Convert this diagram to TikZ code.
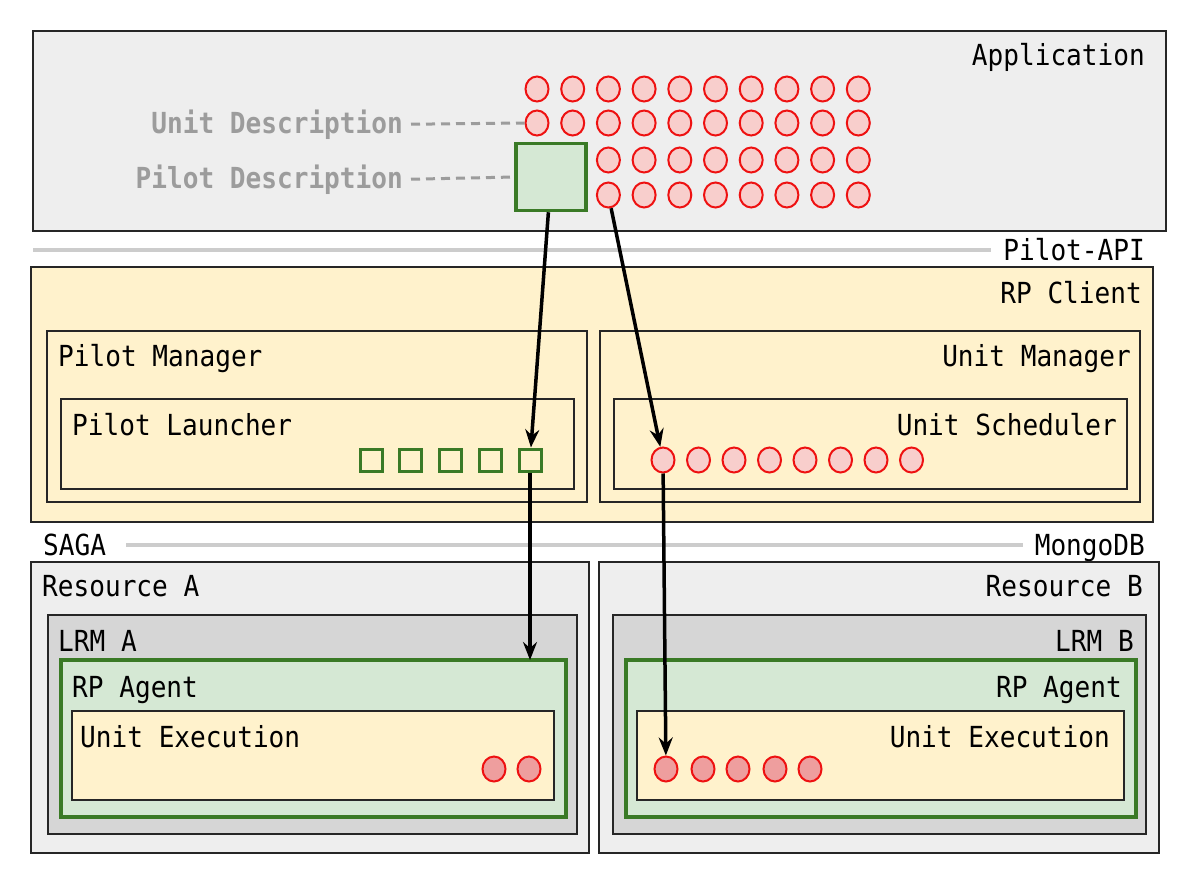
\documentclass[tikz,border=0pt]{standalone}
\usepackage{fontspec}
\usepackage{xcolor}
\usepackage{tikz}
\usetikzlibrary{arrows.meta,shapes.geometric}
\newfontfamily\diafont[FakeStretch=0.9]{DejaVu Sans Mono}
\definecolor{appgray}{HTML}{EEEEEE}
\definecolor{lrmgray}{HTML}{D6D6D6}
\definecolor{clientfill}{HTML}{FFF2CC}
\definecolor{agentfill}{HTML}{D5E8D4}
\definecolor{agentgreen}{HTML}{3A7A26}
\definecolor{unitred}{HTML}{EE1111}
\definecolor{unitfill}{HTML}{F8CECC}
\definecolor{donefill}{HTML}{EE9E9E}
\definecolor{descgray}{HTML}{9C9C9C}
\definecolor{apigray}{HTML}{CCCCCC}

\begin{document}
\begin{tikzpicture}[x=1pt,y=-1pt,
	font=\diafont\fontsize{29pt}{34pt}\selectfont,
	box/.style={draw=black!85, line width=1.4pt},
	agent/.style={draw=agentgreen, fill=agentfill, line width=3.5pt},
	lbl/.style={inner sep=0pt},
	desc/.style={inner sep=0pt, text=descgray, font=\diafont\bfseries\fontsize{29pt}{34pt}\selectfont},
	unit/.style={ellipse, draw=unitred, fill=unitfill, line width=2pt, minimum width=23pt, minimum height=25pt, inner sep=0pt},
	done/.style={unit, fill=donefill},
	pilot/.style={draw=agentgreen, line width=3pt, minimum size=22pt, inner sep=0pt},
	flow/.style={line width=3.5pt, -{Stealth[length=18pt,width=14pt,inset=6pt]}},
	api/.style={draw=apigray, line width=4pt},
	link/.style={draw=descgray, line width=3pt, dash pattern=on 9pt off 6pt}]
	\useasboundingbox (0,0) rectangle (1185,883);

	\draw[box, fill=appgray] (33,31) rectangle (1166,231);
	\node[lbl, anchor=base east] (app) at (1145,66) {Application};
	\foreach \r/\y in {1/89,2/123}
		\foreach \i in {0,...,9}
			\node[unit] (u\r-\i) at ({537+35.7*\i},\y) {};
	\foreach \r/\y in {3/160,4/195}
		\foreach \i in {2,...,9}
			\node[unit] (u\r-\i) at ({537+35.7*\i},\y) {};
	\node[agent, minimum width=70pt, minimum height=67pt, inner sep=0pt] (pdesc) at (551,177) {};
	\node[desc, anchor=base east] (udtext) at (403,133) {Unit Description};
	\node[desc, anchor=base east] (pdtext) at (403,188) {Pilot Description};
	\draw[link] (udtext.east) ++(8pt,0) -- (u2-0.west);
	\draw[link] (pdtext.east) ++(8pt,0) -- (pdesc.west);

	\node[lbl, anchor=base east] (papi) at (1145,260) {Pilot-API};
	\draw[api] (33,250) -- ([xshift=-12pt]papi.west |- 0,250);

	\draw[box, fill=clientfill] (31,267) rectangle (1153,522);
	\node[lbl, anchor=base east] (client) at (1142,303) {RP Client};
	\draw[box, fill=clientfill] (47,331) rectangle (587,502);
	\node[lbl, anchor=base west] (pmgr) at (58,366) {Pilot Manager};
	\draw[box, fill=clientfill] (61,399) rectangle (574,489);
	\node[lbl, anchor=base west] (plaunch) at (72,435) {Pilot Launcher};
	\foreach \i/\x in {0/371,1/410,2/450,3/490,4/530}
		\node[pilot] (p\i) at (\x,460) {};

	\draw[box, fill=clientfill] (600,331) rectangle (1140,502);
	\node[lbl, anchor=base east] (umgr) at (1131,366) {Unit Manager};
	\draw[box, fill=clientfill] (614,399) rectangle (1127,489);
	\node[lbl, anchor=base east] (usched) at (1117,435) {Unit Scheduler};
	\foreach \i in {0,...,7}
		\node[unit] (s\i) at ({663+35.5*\i},460) {};

	\node[lbl, anchor=base west] (saga) at (43,555) {SAGA};
	\node[lbl, anchor=base east] (mongo) at (1145,555) {MongoDB};
	\draw[api] ([xshift=20pt]saga.east |- 0,545) -- ([xshift=-12pt]mongo.west |- 0,545);

	\draw[box, fill=appgray] (31,562) rectangle (589,853);
	\node[lbl, anchor=base west] (resa) at (42,596) {Resource A};
	\draw[box, fill=lrmgray] (48,615) rectangle (577,834);
	\node[lbl, anchor=base west] (lrma) at (58,651) {LRM A};
	\draw[agent] (61,660) rectangle (566,817);
	\coordinate (agenta) at (530,660);
	\node[lbl, anchor=base west] (rpa) at (72,697) {RP Agent};
	\draw[box, fill=clientfill] (72,711) rectangle (554,800);
	\node[lbl, anchor=base west] (exa) at (80,747) {Unit Execution};
	\foreach \i/\x in {0/494,1/529}
		\node[done] (a\i) at (\x,769) {};

	\draw[box, fill=appgray] (599,562) rectangle (1159,853);
	\node[lbl, anchor=base east] (resb) at (1143,596) {Resource B};
	\draw[box, fill=lrmgray] (613,615) rectangle (1146,834);
	\node[lbl, anchor=base east] (lrmb) at (1134,651) {LRM B};
	\draw[agent] (626,660) rectangle (1136,817);
	\node[lbl, anchor=base east] (rpb) at (1122,697) {RP Agent};
	\draw[box, fill=clientfill] (637,711) rectangle (1124,800);
	\node[lbl, anchor=base east] (exb) at (1110,747) {Unit Execution};
	\foreach \i/\x in {0/666,1/703,2/738,3/775,4/810}
		\node[done] (b\i) at (\x,769) {};

	\draw[flow] (pdesc) -- (p4);
	\draw[flow] (p4.south) -- (agenta);
	\draw[flow] (u4-2) -- (s0);
	\draw[flow] (s0) -- (b0);
\end{tikzpicture}
\end{document}
